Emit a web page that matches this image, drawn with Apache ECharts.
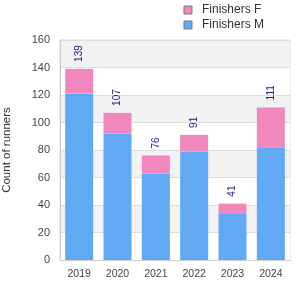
<!DOCTYPE html>
<html>
<head>
<meta charset="utf-8">
<style>
  html, body { margin: 0; padding: 0; background: #fff; }
  #chart { width: 300px; height: 300px; }
</style>
<script src="https://cdn.jsdelivr.net/npm/echarts@6/dist/echarts.min.js"></script>
</head>
<body>
<div id="chart"></div>
<script>
var years = ["2019", "2020", "2021", "2022", "2023", "2024"];
var finishersM = [121, 92, 63, 79, 34, 82];
var finishersF = [18, 15, 13, 12, 7, 29];

var myChart = echarts.init(document.getElementById("chart"));
myChart.setOption({
  animation: false,
  textStyle: { fontFamily: "Liberation Sans" },
  grid: {
    left: 60,
    right: 10,
    top: 40,
    bottom: 40,
    outerBoundsMode: "none",
    containLabel: false,
    show: true,
    borderColor: "#d9d9d9",
    borderWidth: 1
  },
  legend: {
    orient: "vertical",
    right: 31,
    top: -1,
    itemWidth: 8,
    itemHeight: 8,
    itemGap: 3,
    icon: "rect",
    data: ["Finishers F", "Finishers M"],
    textStyle: { color: "#333", fontSize: 12, padding: [0, 0, 0, 5] },
    itemStyle: { borderColor: "#777", borderWidth: 1 }
  },
  xAxis: {
    type: "category",
    data: years,
    axisTick: { show: false },
    axisLine: { lineStyle: { color: "#cccccc" } },
    axisLabel: { color: "#444", fontSize: 10.5, margin: 9 }
  },
  yAxis: {
    type: "value",
    min: 0,
    max: 160,
    interval: 20,
    name: "Count of runners",
    nameLocation: "middle",
    nameGap: 47,
    nameTextStyle: { color: "#333", fontSize: 11.5 },
    axisLine: { show: true, lineStyle: { color: "#cccccc" } },
    axisLabel: { color: "#444", fontSize: 11, margin: 10 },
    splitLine: { lineStyle: { color: "#dddddd" } },
    splitArea: { show: true, areaStyle: { color: ["#ffffff", "#f2f2f2"] } }
  },
  series: [
    {
      name: "Finishers M",
      type: "bar",
      stack: "total",
      barWidth: 28,
      itemStyle: { color: "#62a9f3" },
      data: finishersM
    },
    {
      name: "Finishers F",
      type: "bar",
      stack: "total",
      barWidth: 28,
      itemStyle: { color: "#f087bd" },
      data: finishersF,
      label: {
        show: true,
        position: "top",
        rotate: 90,
        align: "left",
        verticalAlign: "middle",
        distance: 7,
        color: "#1a1a8c",
        fontSize: 10,
        formatter: function(p) {
          return finishersM[p.dataIndex] + finishersF[p.dataIndex];
        }
      }
    }
  ]
});
</script>
</body>
</html>
